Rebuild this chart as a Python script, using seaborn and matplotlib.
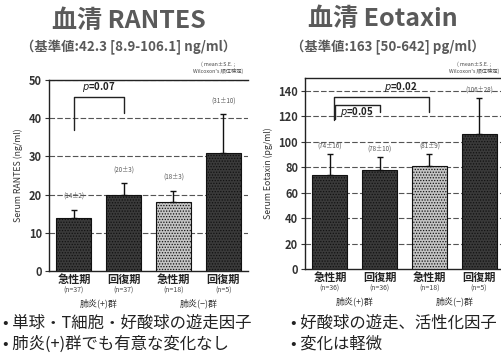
import matplotlib
matplotlib.use("Agg")
import matplotlib.pyplot as plt
import seaborn as sns
import pandas as pd

# ---- data ----
phases = ["急性期", "回復期", "急性期", "回復期"]
groups = ["肺炎(+)群", "肺炎(−)群"]
rantes_n = ["(n=37)", "(n=37)", "(n=18)", "(n=5)"]
rantes_mean = [14, 20, 18, 31]
rantes_se = [2, 3, 3, 10]
eotaxin_n = ["(n=36)", "(n=36)", "(n=18)", "(n=5)"]
eotaxin_mean = [74, 78, 81, 106]
eotaxin_se = [16, 10, 9, 28]

W, H = 501, 356
DARK = "#3a3a3a"
LIGHT = "#c4c4c4"
bar_colors = [DARK, DARK, LIGHT, DARK]

sns.set_theme(style="white")
plt.rcParams["font.family"] = ["Noto Sans CJK JP", "DejaVu Sans"]
plt.rcParams["mathtext.fontset"] = "dejavusans"
plt.rcParams["hatch.linewidth"] = 0.6

fig = plt.figure(figsize=(W / 100, H / 100), dpi=100)
fig.patch.set_facecolor("white")


def px_box(left, top, right, bottom):
    return [left / W, 1 - bottom / H, (right - left) / W, (bottom - top) / H]


def fx(x):
    return x / W


def fy(y):
    return 1 - y / H


def panel(ax, means, ses, ns, ylim, yticks, ylabel, label_off):
    df = pd.DataFrame({"pos": [0, 1, 2, 3], "mean": means})
    sns.barplot(data=df, x="pos", y="mean", hue="pos", palette=bar_colors,
                legend=False, width=0.7, ax=ax, zorder=3)
    for p in ax.patches:
        p.set_hatch("......")
        p.set_edgecolor("#111111")
        p.set_linewidth(0.8)
    ax.errorbar(range(4), means, yerr=[[0] * 4, ses], fmt="none",
                ecolor="#111111", elinewidth=1.0, capsize=2, capthick=1.0,
                zorder=4)
    ax.set_xlim(-0.5, 3.5)
    ax.set_ylim(*ylim)
    ax.set_yticks(yticks)
    ax.set_xticks([])
    ax.set_xlabel("")
    ax.set_ylabel(ylabel, fontsize=6.3, color="#333333", labelpad=4)
    ax.tick_params(axis="y", labelsize=8, labelcolor="#333333", length=3,
                   width=0.8, color="#333333", pad=2, left=True)
    for lab in ax.get_yticklabels():
        lab.set_fontweight("bold")
    for t in yticks[1:]:
        ax.axhline(t, color="#555555", lw=0.8, ls=(0, (5, 2)), zorder=1)
    for s in ["left", "bottom", "top"]:
        ax.spines[s].set_visible(True)
        ax.spines[s].set_color("#222222")
        ax.spines[s].set_linewidth(1.0)
    ax.spines["right"].set_visible(False)
    # value labels above each bar
    for i, (m, s) in enumerate(zip(means, ses)):
        ax.annotate(f"({m}±{s})", (i, m + s), xytext=(0, label_off),
                    textcoords="offset points", ha="center", va="center",
                    fontsize=4.5, color="#555555")
    # category labels under the axis
    for i, (ph, n) in enumerate(zip(phases, ns)):
        ax.annotate(ph, (i, 0), xycoords=("data", "axes fraction"),
                    xytext=(0, -6), textcoords="offset points",
                    ha="center", va="center", fontsize=8,
                    fontweight="bold", color="#222222")
        ax.annotate(n, (i, 0), xycoords=("data", "axes fraction"),
                    xytext=(0, -14), textcoords="offset points",
                    ha="center", va="center", fontsize=5, color="#444444")
    for gx, g in zip([0.5, 2.5], groups):
        ax.annotate(g, (gx, 0), xycoords=("data", "axes fraction"),
                    xytext=(0, -23), textcoords="offset points",
                    ha="center", va="center", fontsize=6.5, color="#333333")


def bracket(ax, x0, x1, ytop, y0, y1, text, tx, ty):
    ax.plot([x0, x0, x1, x1], [y0, ytop, ytop, y1], color="#222222",
            lw=1.0, zorder=5, clip_on=False)
    ax.text(tx, ty, text, ha="center", va="center", fontsize=7,
            fontweight="bold", color="#222222", zorder=5)


# ---- RANTES panel ----
ax1 = fig.add_axes(px_box(49, 80, 248, 271))
panel(ax1, rantes_mean, rantes_se, rantes_n, (0, 50), list(range(0, 51, 10)),
      "Serum RANTES (ng/ml)", 10)
bracket(ax1, 0, 1, 45.5, 37, 41.3, "$p$=0.07", 0.5, 48.2)

# ---- Eotaxin panel ----
ax2 = fig.add_axes(px_box(305, 78, 504, 269))
panel(ax2, eotaxin_mean, eotaxin_se, eotaxin_n, (0, 150),
      list(range(0, 141, 20)), "Serum Eotaxin (pg/ml)", 6)
bracket(ax2, 0.08, 2, 135, 117, 123.5, "$p$=0.02", 1.43, 143)
bracket(ax2, 0.1, 1, 129, 118, 123.5, "$p$=0.05", 0.55, 123)

# ---- titles ----
title_col = "#5a5a5a"
fig.text(fx(129), fy(21), "血清 RANTES", ha="center", va="center",
         fontsize=18, fontweight="bold", color=title_col)
fig.text(fx(129), fy(47), "（基準値:42.3 [8.9-106.1] ng/ml）", ha="center",
         va="center", fontsize=9.6, fontweight="bold", color=title_col)
fig.text(fx(383), fy(19), "血清 Eotaxin", ha="center", va="center",
         fontsize=18, fontweight="bold", color=title_col)
fig.text(fx(388), fy(47), "（基準値:163 [50-642] pg/ml）", ha="center",
         va="center", fontsize=9.6, fontweight="bold", color=title_col)

note = "( mean±S.E. ;\nWilcoxon's 順位検定)"
fig.text(fx(218), fy(68), note, ha="center", va="center", fontsize=3.8,
         color="#444444", linespacing=1.3)
fig.text(fx(499), fy(68), note, ha="right", va="center", fontsize=3.8,
         color="#444444", linespacing=1.3, multialignment="center")

# ---- bullet notes ----
bullets = [
    (3, 323, "• 単球・T細胞・好酸球の遊走因子"),
    (3, 344, "• 肺炎(+)群でも有意な変化なし"),
    (291, 323, "• 好酸球の遊走、活性化因子"),
    (291, 344, "• 変化は軽微"),
]
for x, y, t in bullets:
    fig.text(fx(x), fy(y), t, ha="left", va="center", fontsize=11.8,
             color="#222222")

fig.savefig("out.png", dpi=100, facecolor="white")
